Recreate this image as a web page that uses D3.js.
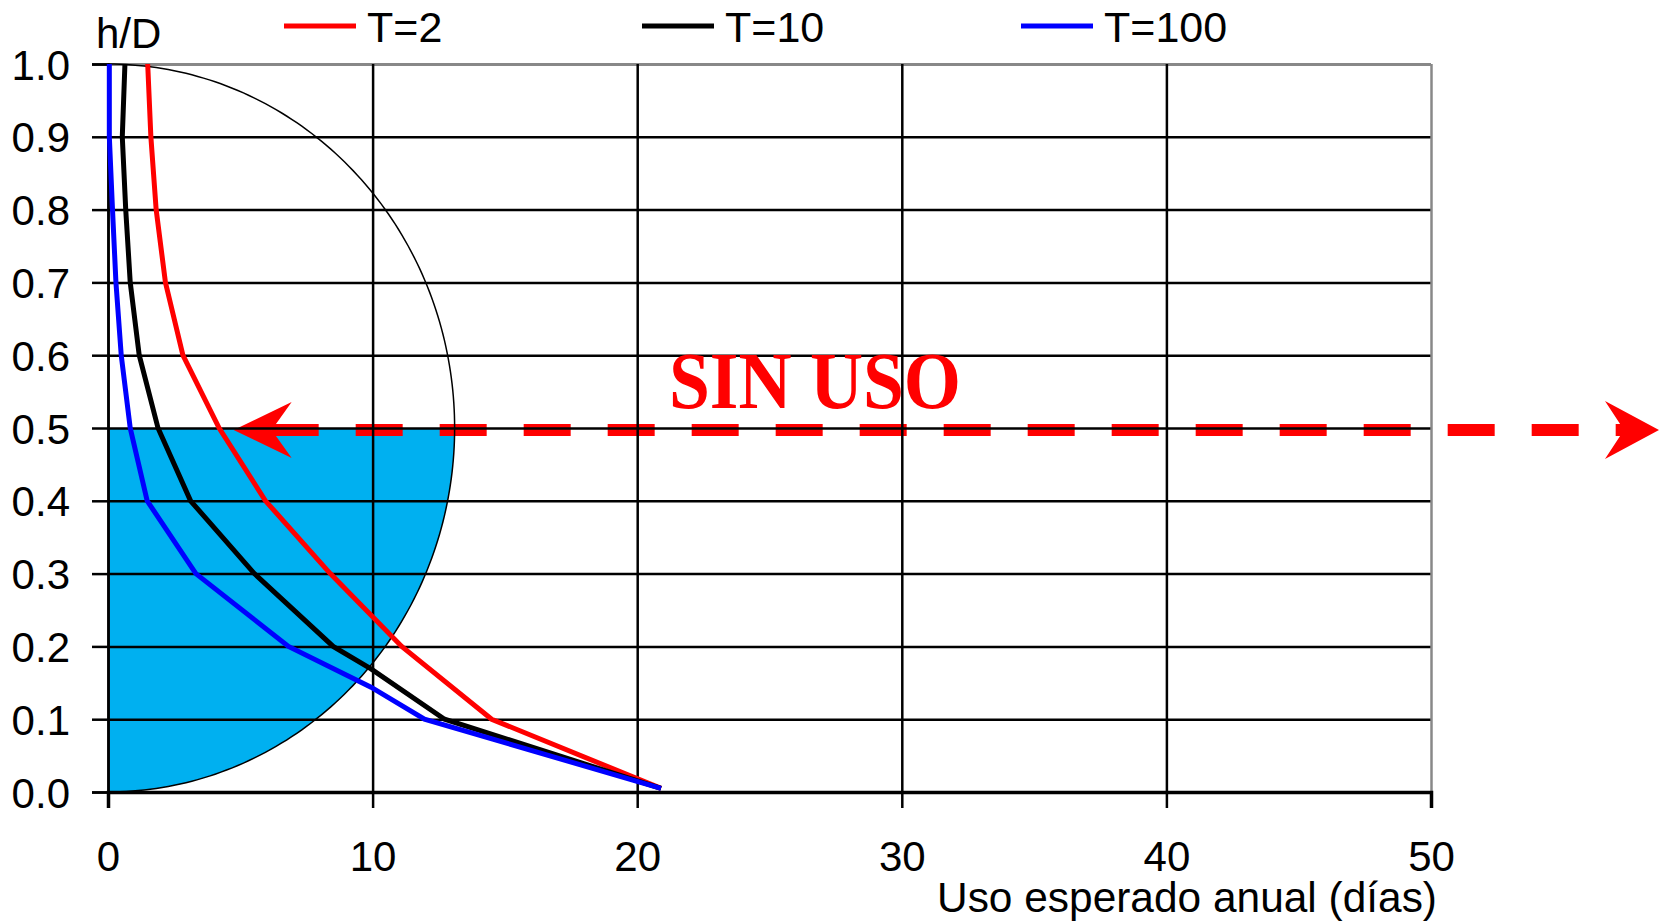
<!DOCTYPE html>
<html>
<head>
<meta charset="utf-8">
<script src="https://cdn.jsdelivr.net/npm/d3@7"></script>
<style>
  body { margin: 0; background: #fff; }
  text { font-family: "Liberation Sans", Arial, sans-serif; }
</style>
</head>
<body>
<script>
// data: [uso esperado anual (dias), h/D]
var seriesNames = ["T=2", "T=10", "T=100"];
var seriesColors = ["#ff0000", "#000000", "#0000ff"];
var t2 = [[1.5,1.0],[1.62,0.9],[1.82,0.8],[2.17,0.7],[2.83,0.6],[4.2,0.5],[5.95,0.4],[8.4,0.3],[11.1,0.2],[14.5,0.1],[20.9,0.005]];
var t10 = [[0.64,1.0],[0.54,0.9],[0.67,0.8],[0.84,0.7],[1.18,0.6],[1.89,0.5],[3.12,0.4],[5.53,0.3],[8.51,0.2],[9.94,0.169],[12.72,0.1],[20.9,0.005]];
var t100 = [[0.05,1.0],[0.05,0.9],[0.17,0.8],[0.3,0.7],[0.5,0.6],[0.84,0.5],[1.48,0.4],[3.32,0.3],[6.82,0.2],[9.94,0.144],[11.96,0.1],[20.9,0.005]];
var allSeries = [t2, t10, t100];

var xTicks = [0, 10, 20, 30, 40, 50];
var yTicks = [0, 0.1, 0.2, 0.3, 0.4, 0.5, 0.6, 0.7, 0.8, 0.9, 1.0];

// pipe section (ellipse in chart units) and "sin uso" level
var pipeRx = 13.1, pipeCy = 0.5, pipeRy = 0.5;
var sinUsoLevel = 0.5;
var arrowTipDays = 4.75;

var W = 1659, H = 921;
var svg = d3.select("body").append("svg")
    .attr("width", W)
    .attr("height", H);

var x = d3.scaleLinear().domain([0, 50]).range([108, 1431]);
var y = d3.scaleLinear().domain([0, 1]).range([792, 64]);
var plotW = x(50) - x(0);

// blue filled lower half of the pipe
var lowerHalf = d3.range(0, 91).map(function(i) {
  var a = -i * Math.PI / 180;
  return [x(pipeRx * Math.cos(a)), y(pipeCy + pipeRy * Math.sin(a))];
});
lowerHalf.push([x(0), y(pipeCy)]);
svg.append("path")
    .attr("d", d3.line()(lowerHalf) + "Z")
    .attr("fill", "#00b0f0");

// red dashed double arrow
var ay = y(sinUsoLevel) + 2;
var leftTip = x(arrowTipDays), rightTip = W;
svg.append("line")
    .attr("x1", leftTip + 38).attr("x2", rightTip - 35)
    .attr("y1", ay).attr("y2", ay)
    .attr("stroke", "#ff0000")
    .attr("stroke-width", 12)
    .attr("stroke-dasharray", "47 37");
svg.append("polygon")
    .attr("points", [[leftTip, ay], [leftTip + 58, ay - 28], [leftTip + 38, ay], [leftTip + 58, ay + 28]].join(" "))
    .attr("fill", "#ff0000");
svg.append("polygon")
    .attr("points", [[rightTip, ay], [rightTip - 54, ay - 29], [rightTip - 35, ay], [rightTip - 54, ay + 29]].join(" "))
    .attr("fill", "#ff0000");

// gridlines
var gy = svg.append("g")
    .attr("transform", "translate(" + x(0) + ",0)")
    .call(d3.axisLeft(y).tickValues(yTicks).tickSize(-plotW).tickFormat(""));
gy.select(".domain").remove();
gy.selectAll(".tick line")
    .attr("stroke", function(d) { return d === 1 ? "#888" : "#000"; })
    .attr("stroke-width", function(d) { return d === 1 ? 3 : (d === 0 ? 3 : 2.5); });

var gx = svg.append("g")
    .attr("transform", "translate(0," + y(0) + ")")
    .call(d3.axisBottom(x).tickValues(xTicks).tickSize(-(y(0) - y(1))).tickFormat(""));
gx.select(".domain").remove();
gx.selectAll(".tick line")
    .attr("stroke", function(d) { return d === 50 ? "#888" : "#000"; })
    .attr("stroke-width", 2.5);

// pipe outline
var arc = d3.range(0, 181).map(function(i) {
  var a = (90 - i) * Math.PI / 180;
  return [x(pipeRx * Math.cos(a)), y(pipeCy + pipeRy * Math.sin(a))];
});
svg.append("path")
    .attr("d", d3.line()(arc))
    .attr("fill", "none")
    .attr("stroke", "#000")
    .attr("stroke-width", 1.5);

// axes with ticks and labels
var yAxis = svg.append("g")
    .attr("transform", "translate(" + x(0) + ",0)")
    .call(d3.axisLeft(y).tickValues(yTicks).tickSize(16).tickPadding(22).tickFormat(d3.format(".1f")));
yAxis.select(".domain").attr("stroke", "#000").attr("stroke-width", 2.5);
yAxis.selectAll(".tick line").attr("stroke", "#000").attr("stroke-width", 2.5);
yAxis.selectAll(".tick text")
    .attr("font-size", 42)
    .attr("font-family", "Liberation Sans, Arial, sans-serif")
    .attr("fill", "#000")
    .attr("dy", "0.36em");

var xAxis = svg.append("g")
    .attr("transform", "translate(0," + y(0) + ")")
    .call(d3.axisBottom(x).tickValues(xTicks).tickSize(16).tickPadding(33));
xAxis.select(".domain").attr("stroke", "#000").attr("stroke-width", 3.5);
xAxis.selectAll(".tick line").attr("stroke", "#000").attr("stroke-width", 2.5);
xAxis.selectAll(".tick text")
    .attr("font-size", 42)
    .attr("font-family", "Liberation Sans, Arial, sans-serif")
    .attr("fill", "#000");

// series
var line = d3.line()
    .x(function(d) { return x(d[0]); })
    .y(function(d) { return y(d[1]); });
svg.selectAll(".serie")
    .data(allSeries)
    .enter().append("path")
    .attr("class", "serie")
    .attr("d", line)
    .attr("fill", "none")
    .attr("stroke", function(d, i) { return seriesColors[i]; })
    .attr("stroke-width", 5)
    .attr("stroke-linejoin", "miter");

// legend
var legX = [284, 642, 1021];
var leg = svg.selectAll(".leg")
    .data(seriesNames)
    .enter().append("g")
    .attr("class", "leg")
    .attr("transform", function(d, i) { return "translate(" + legX[i] + ",0)"; });
leg.append("line")
    .attr("x1", 0).attr("x2", 72)
    .attr("y1", 26).attr("y2", 26)
    .attr("stroke", function(d, i) { return seriesColors[i]; })
    .attr("stroke-width", 5);
leg.append("text")
    .attr("x", 83).attr("y", 42)
    .attr("font-size", 43)
    .text(function(d) { return d; });

// titles
svg.append("text")
    .attr("x", 96).attr("y", 48)
    .attr("font-size", 42)
    .text("h/D");
svg.append("text")
    .attr("x", 937).attr("y", 912)
    .attr("font-size", 42)
    .attr("textLength", 500)
    .attr("lengthAdjust", "spacingAndGlyphs")
    .text("Uso esperado anual (días)");

svg.append("text")
    .attr("x", 669).attr("y", 408)
    .style("font-family", "'Liberation Serif', 'Times New Roman', serif")
    .attr("font-weight", "bold")
    .attr("font-size", 80)
    .attr("textLength", 292)
    .attr("lengthAdjust", "spacingAndGlyphs")
    .attr("fill", "#ff0000")
    .text("SIN USO");
</script>
</body>
</html>
